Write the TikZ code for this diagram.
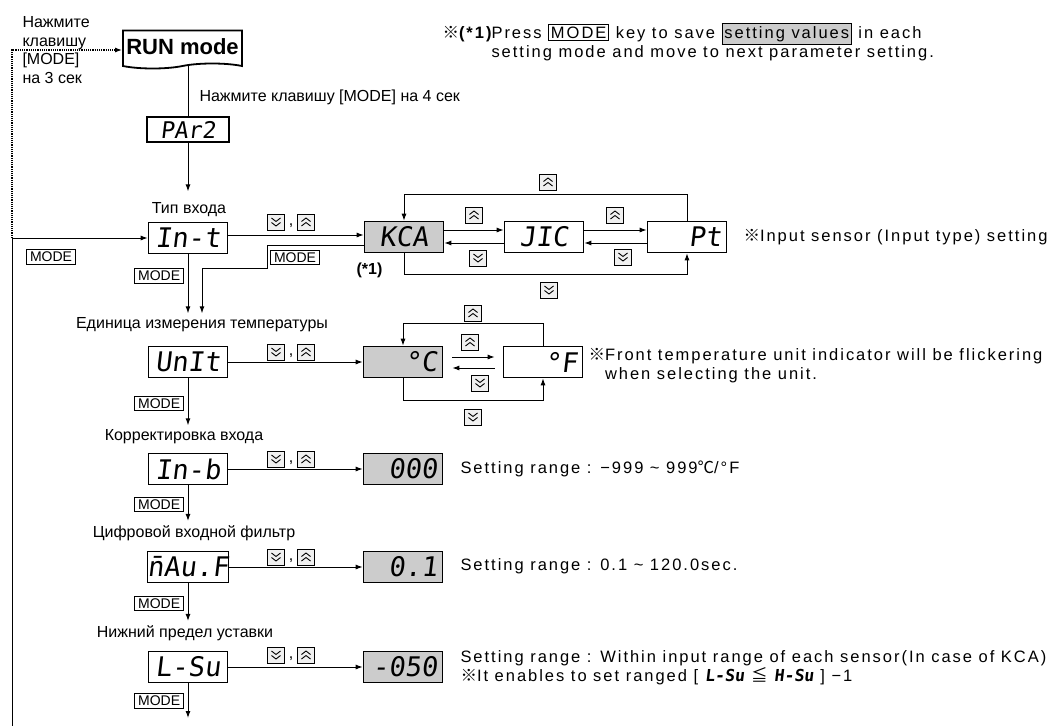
\documentclass[tikz,border=0pt]{standalone}
\usepackage{fontspec}
\setmainfont{Liberation Sans}
\newfontfamily\notefont{Liberation Sans}[LetterSpace=12]
\newfontfamily\cjk{Noto Sans CJK KR}
\newfontfamily\segfont{DejaVu Sans Mono}[FakeSlant=0.12]
\usetikzlibrary{arrows.meta,shapes.symbols}
\newcommand{\kome}{{\cjk ※}}
\setlength{\fboxsep}{2pt}
\setlength{\fboxrule}{0.8pt}

\tikzset{
  >={Latex[length=7pt,width=5pt]},   % 默认箭头
  disp/.style={draw, line width=1.6pt, minimum width=79pt, minimum height=31pt,
    inner sep=0pt, font=\segfont\fontsize{27}{27}\selectfont},
  val/.style={disp, inner xsep=5pt, text width=69pt, align=right, fill=black!20},
  valw/.style={val, fill=white},
  modebox/.style={draw, line width=0.8pt, inner xsep=3.5pt, inner ysep=2.3pt, font=\fontsize{14}{14}\selectfont},
  lbl/.style={inner sep=1pt, font=\fontsize{16}{16}\selectfont},
  note/.style={inner sep=0pt, align=left, font=\notefont\fontsize{16.5}{19}\selectfont},
  upkey/.style={draw, line width=0.8pt, fill=black!6, minimum width=17pt, minimum height=16pt, inner sep=0pt,
    path picture={\draw[line width=0.9pt, shift={(path picture bounding box.center)}]
      (-4.5pt,0.5pt) -- (0pt,4pt) -- (4.5pt,0.5pt)
      (-4.5pt,-4pt) -- (0pt,-0.5pt) -- (4.5pt,-4pt);}},
  dnkey/.style={draw, line width=0.8pt, fill=black!6, minimum width=17pt, minimum height=16pt, inner sep=0pt,
    path picture={\draw[line width=0.9pt, shift={(path picture bounding box.center)}]
      (-4.5pt,4pt) -- (0pt,0.5pt) -- (4.5pt,4pt)
      (-4.5pt,-0.5pt) -- (0pt,-4pt) -- (4.5pt,-0.5pt);}}
}

\begin{document}
\begin{tikzpicture}[x=1pt, y=-1pt, line width=1pt]
\useasboundingbox (0,0) rectangle (1052,726);

%==================== RUN 模式 ====================
\node[lbl, anchor=north west, align=left, font=\fontsize{16}{18.5}\selectfont] (hold3) at (21,15)
  {Нажмите\\клавишу\\{}[MODE]\\на 3 сек};
\node[tape, tape bend top=none, draw, line width=1.8pt, minimum width=119pt, minimum height=38pt,
  inner sep=2pt, font=\bfseries\fontsize{22}{22}\selectfont] (run) at (182.5,47) {RUN mode};
\node[lbl, anchor=west] (hold4) at (198,97) {Нажмите клавишу [MODE] на 4 сек};
\node[disp, minimum width=82pt, minimum height=25pt, font=\segfont\fontsize{23}{23}\selectfont]
  (par) at (188,129.5) {PAr2};
\draw (par.north) -- (par.north |- run.south);

% 左侧回线
\coordinate (lft) at (12,238);
\coordinate (lbot) at (12,726);
\draw (lft) -- (lbot);
\draw[densely dotted, line width=1.2pt, ->] (lft) |- ([yshift=-3pt]run.west);
\node[modebox] (m0) at (51,257) {MODE};

% 注释 (*1)
\node[note, anchor=west] (n0) at (442,42)
  {\kome{\bfseries(*1)}Press \fbox{MODE} key to save \fcolorbox{black}{black!20}{setting values} in each\\
   \phantom{\kome{\bfseries(*1)}}setting mode and move to next parameter setting.};

%==================== 输入类型 ====================
\node[lbl] (tlbl1) at (189,210) {Тип входа};
\node[disp] (int) at (188,238) {In-t};
\draw[->, shorten >=10pt] (par.south) -- (par.south |- tlbl1.north);
\draw[->] (lft) -- (int.west);

\node[val, align=center] (kca) at (404,237) {KCA};
\node[valw, align=center] (jic) at (544,237) {JIC};
\node[valw] (pt) at (687,237) {Pt};
\node[font=\bfseries\fontsize{16}{16}\selectfont] (star1) at (369.5,270) {(*1)};

\draw[->] ([yshift=3pt]int.east) -- ([yshift=3pt]int.east -| kca.west);
\node[dnkey] (k1d) at (276,222) {};
\node[lbl] (c1) at (291,226) {,};
\node[upkey] (k1u) at (306,222) {};

\draw[->] ([yshift=7pt]kca.east) -- ([yshift=7pt]jic.west);
\draw[->] ([yshift=-6pt]jic.west) -- ([yshift=-6pt]kca.east);
\draw[->] ([yshift=7pt]jic.east) -- ([yshift=7pt]pt.west);
\draw[->] ([yshift=-6pt]pt.west) -- ([yshift=-6pt]jic.east);
\draw[->] (pt.north) -- ++(0,-26) -| (kca.north);
\draw[->] (kca.south) -- ++(0,21) -| (pt.south);
\node[upkey] (k2u) at (548,182) {};
\node[upkey] (k3u) at (474,215) {};
\node[dnkey] (k3d) at (478,258) {};
\node[upkey] (k4u) at (615,215) {};
\node[dnkey] (k4d) at (623,257) {};
\node[dnkey] (k5d) at (549,290) {};
\node[note, anchor=west] (n1) at (743,237) {\kome Input sensor (Input type) setting};

%==================== 温度单位 ====================
\node[lbl] (tlbl2) at (202,325) {Единица измерения температуры};
\node[disp] (unit) at (188,362) {UnIt};
\node[val] (degc) at (403,362) {°C};
\node[valw] (degf) at (543,362) {°F};

% MODE 返回
\draw[->, shorten >=3pt] (int.south) -- (int.south |- tlbl2.north) node[modebox, pos=.35, left=4pt] (m1) {MODE};
\draw[->, shorten >=3pt] ([yshift=-8pt]kca.west) -| (267,268) -| (tlbl2.north);
\node[modebox] (m2) at (295,257.5) {MODE};

\draw[->] (unit) -- (degc);
\node[dnkey] (k6d) at (276,352) {};
\node[lbl] (c2) at (291,356) {,};
\node[upkey] (k6u) at (306,352) {};

\draw[->, shorten <=9pt, shorten >=8pt] ([yshift=5pt]degc.east) -- ([yshift=5pt]degf.west);
\draw[->, shorten <=8pt, shorten >=9pt] ([yshift=-6pt]degf.west) -- ([yshift=-6pt]degc.east);
\draw[->] (degf.north) -- ++(0,-22) -| (degc.north);
\draw[->] (degc.south) -- ++(0,22) -| (degf.south);
\node[upkey] (k7u) at (473,313) {};
\node[upkey] (k8u) at (470,342) {};
\node[dnkey] (k8d) at (480,383) {};
\node[dnkey] (k9d) at (473,417) {};
\node[note, anchor=west] (n2) at (588,366)
  {\kome Front temperature unit indicator will be flickering\\\phantom{\kome}when selecting the unit.};

%==================== 输入修正 ====================
\node[lbl] (tlbl3) at (184,437) {Корректировка входа};
\node[disp] (inb) at (188,469) {In-b};
\node[val] (bias) at (403,469) {000};
\draw[->, shorten >=3pt] (unit.south) -- (unit.south |- tlbl3.north) node[modebox, pos=.5, left=4pt] (m3) {MODE};
\draw[->] (inb) -- (bias);
\node[dnkey] (k10d) at (276,459) {};
\node[lbl] (c3) at (291,463) {,};
\node[upkey] (k10u) at (306,459) {};
\node[note, anchor=west] (n3) at (460,469) {Setting range : −999 \textasciitilde{} 999{\cjk ℃}/°F};

%==================== 数字滤波 ====================
\node[lbl] (tlbl4) at (194,533) {Цифровой входной фильтр};
\node[disp] (mavf) at (188,567) {\={n}Au.F};
\node[val] (filt) at (403,567) {0.1};
\draw[->, shorten >=3pt] (inb.south) -- (inb.south |- tlbl4.north) node[modebox, pos=.5, left=4pt] (m4) {MODE};
\draw[->] (mavf) -- (filt);
\node[dnkey] (k11d) at (276,557) {};
\node[lbl] (c4) at (291,561) {,};
\node[upkey] (k11u) at (306,557) {};
\node[note, anchor=west] (n4) at (460,566) {Setting range : 0.1 \textasciitilde{} 120.0sec.};

%==================== 设定下限 ====================
\node[lbl] (tlbl5) at (185,633) {Нижний предел уставки};
\node[disp] (lsu) at (188,667) {L-Su};
\node[val] (lsuval) at (403,667) {-050};
\draw[->, shorten >=3pt] (mavf.south) -- (mavf.south |- tlbl5.north) node[modebox, pos=.5, left=4pt] (m5) {MODE};
\draw[->] (lsu) -- (lsuval);
\node[dnkey] (k12d) at (276,655) {};
\node[lbl] (c5) at (291,659) {,};
\node[upkey] (k12u) at (306,655) {};
\node[note, anchor=west] (n5) at (460,668)
  {Setting range : Within input range of each sensor(In case of KCA)\\
   \kome It enables to set ranged [ {\segfont\bfseries L-Su} {\cjk ≦} {\segfont\bfseries H-Su} ] −1};
\coordinate (end) at (188,718);
\draw[->] (lsu.south) -- (end) node[modebox, pos=.5, left=4pt] (m6) {MODE};

\end{tikzpicture}
\end{document}
